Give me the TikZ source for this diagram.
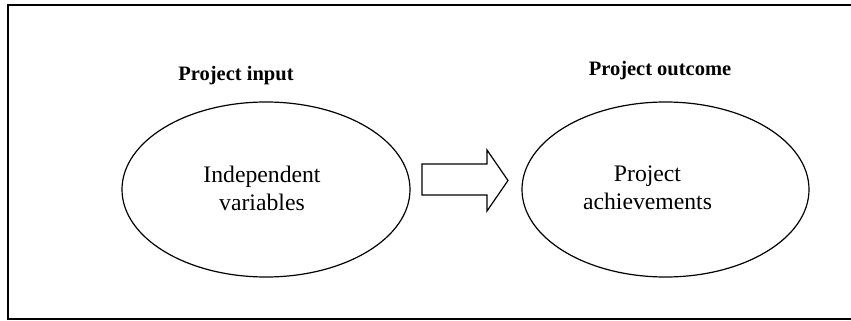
\documentclass[tikz,border=0pt]{standalone}
\usepackage{fontspec}
\setmainfont{Liberation Serif}
\usetikzlibrary{shapes.geometric}
\begin{document}
\begin{tikzpicture}[x=1pt,y=-1pt,
  oval/.style={draw, line width=1.2pt, ellipse, inner sep=0pt},
  body/.style={font=\fontsize{23.7}{28}\selectfont, align=center, inner sep=0pt},
  head/.style={font=\fontsize{20.5}{24}\selectfont\bfseries, inner sep=0pt, anchor=base},
  frame/.style={line width=2pt},
  blockarrow/.style={draw, line width=1.2pt, line join=miter}]
\useasboundingbox (0,0) rectangle (851,321);
% frame (top, left, bottom)
\coordinate (ftr) at (851,5.5);
\coordinate (ftl) at (8,5.5);
\coordinate (fbl) at (8,319);
\coordinate (fbr) at (851,319);
\draw[frame] (ftr) -- (ftl) -- (fbl) -- (fbr);
% headings
\node[head] (hin) at (236,81) {Project input};
\node[head] (hout) at (660,76) {Project outcome};
% ellipses
\node[oval, minimum width=288pt, minimum height=175pt] (e1) at (266,189.5) {};
\node[oval, minimum width=287pt, minimum height=175pt] (e2) at (665.5,189.5) {};
\node[body] (t1) at (262,188) {Independent\\variables};
\node[body] (t2) at (647.5,188) {Project\\achievements};
% block arrow
\draw[blockarrow] (422,164) -- (487,164) -- (487,150) -- (508,180.5) -- (487,211) -- (487,195) -- (422,195) -- cycle;
\end{tikzpicture}
\end{document}
